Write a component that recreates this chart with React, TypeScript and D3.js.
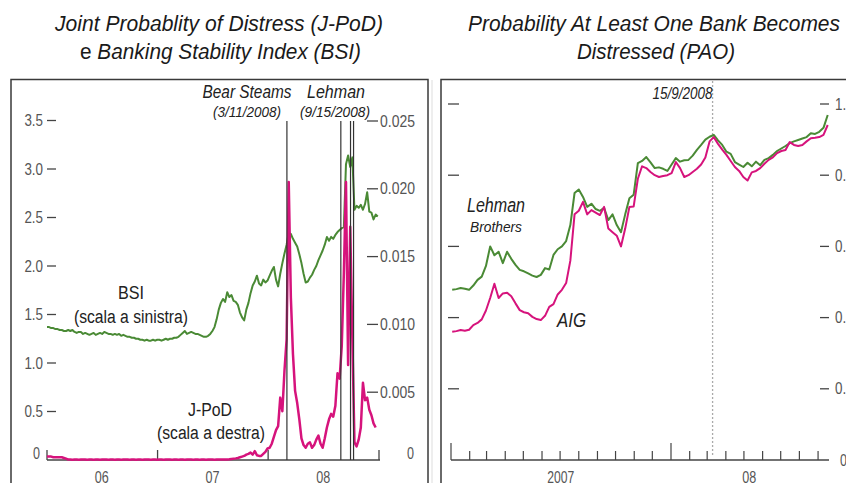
import React from "react";
import * as d3 from "d3";

// BSI, weekly from 1 Jan 2006 (left scale)
const bsiWeekly = [
  1.37, 1.37, 1.36, 1.36, 1.35, 1.35, 1.34, 1.34, 1.33, 1.33,
  1.34, 1.33, 1.34, 1.32, 1.31, 1.32, 1.32, 1.30, 1.31, 1.30,
  1.29, 1.30, 1.31, 1.29, 1.30, 1.31, 1.30, 1.32, 1.31, 1.30,
  1.30, 1.29, 1.30, 1.29, 1.30, 1.28, 1.29, 1.28, 1.27, 1.27,
  1.26, 1.26, 1.25, 1.25, 1.24, 1.24, 1.23, 1.24, 1.23, 1.23,
  1.24, 1.23, 1.24, 1.24, 1.23, 1.24, 1.25, 1.24, 1.25, 1.25,
  1.26, 1.26, 1.27, 1.29, 1.31, 1.33, 1.30, 1.31, 1.32, 1.31,
  1.30, 1.30, 1.29, 1.28, 1.27, 1.27, 1.28, 1.30, 1.33, 1.37,
  1.45, 1.55, 1.62, 1.66, 1.63, 1.73, 1.68, 1.70, 1.64, 1.63,
  1.60, 1.52, 1.47, 1.44, 1.55, 1.62, 1.72, 1.80, 1.84, 1.90,
  1.82, 1.80, 1.86, 1.83, 1.85, 1.90, 1.95, 1.99, 1.86, 1.79,
  1.92, 2.03, 2.13, 2.22, 2.34, 2.33, 2.28, 2.24, 2.20, 2.12,
  2.03, 1.92, 1.83, 1.84, 1.88, 1.91, 1.96, 2.00, 2.06, 2.11,
  2.16, 2.22, 2.30, 2.26, 2.30, 2.28, 2.32, 2.35, 2.37, 2.39,
  2.40, 3.05, 3.14, 3.02, 3.12, 2.58, 2.62, 2.60, 2.63, 2.58,
  2.64, 2.76, 2.56, 2.55, 2.48, 2.53, 2.51,
];

// J-PoD in thousandths, weekly from 1 Jan 2006 (right scale)
const jpodPerMille = [
  0.25, 0.25, 0.25, 0.2, 0.2, 0.2, 0.2, 0.2, 0.15, 0.1,
  0.03, 0.03, 0.02, 0.03, 0.03, 0.02, 0.03, 0.03, 0.03, 0.02,
  0.03, 0.03, 0.02, 0.03, 0.03, 0.02, 0.03, 0.03, 0.03, 0.02,
  0.03, 0.03, 0.02, 0.03, 0.03, 0.02, 0.03, 0.03, 0.03, 0.02,
  0.03, 0.03, 0.02, 0.03, 0.03, 0.02, 0.03, 0.03, 0.03, 0.02,
  0.03, 0.03, 0.02, 0.03, 0.03, 0.02, 0.03, 0.03, 0.03, 0.02,
  0.03, 0.03, 0.02, 0.03, 0.03, 0.02, 0.03, 0.03, 0.03, 0.02,
  0.03, 0.03, 0.02, 0.03, 0.03, 0.02, 0.03, 0.03, 0.03, 0.02,
  0.03, 0.03, 0.03, 0.04, 0.04, 0.04,
  0.05, 0.08, 0.1, 0.12, 0.15, 0.2, 0.25, 0.3, 0.4, 0.45,
  0.55, 0.4, 0.65, 0.35, 0.3, 0.3, 0.45, 0.6, 0.85, 0.9,
  1.2, 1.7, 2.2, 2.5, 4.6, 3.6, 6.6, 8.9, 20.5, 12.0,
  7.8, 5.1, 4.2, 3.0, 1.6, 1.1, 0.9, 1.2, 1.3, 0.9,
  1.1, 1.5, 1.8, 1.2, 0.9, 1.6, 2.4, 3.0, 3.4, 3.2,
  4.0, 6.4, 6.0, 8.4, 13.8, 20.5, 7.0, 17.2, 9.0, 1.3,
  1.0, 1.5, 2.4, 5.7, 4.4, 4.6, 3.7, 3.3, 2.7, 2.4,
];

// PAO, weekly from 3 Jan 2007
const lehmanPao = [
  0.478, 0.480, 0.483, 0.481, 0.478, 0.490, 0.506, 0.515, 0.545, 0.600,
  0.575, 0.585, 0.553, 0.585, 0.565, 0.548, 0.534, 0.530, 0.524, 0.518,
  0.514, 0.520, 0.539, 0.535, 0.576, 0.592, 0.600, 0.615, 0.660, 0.750,
  0.760, 0.739, 0.711, 0.720, 0.705, 0.700, 0.708, 0.674, 0.690, 0.660,
  0.640, 0.690, 0.735, 0.745, 0.834, 0.840, 0.851, 0.836, 0.820, 0.822,
  0.818, 0.812, 0.830, 0.848, 0.838, 0.842, 0.843, 0.855, 0.871, 0.885,
  0.900, 0.908, 0.913, 0.898, 0.885, 0.866, 0.860, 0.837, 0.830, 0.823,
  0.835, 0.825, 0.838, 0.828, 0.843, 0.848, 0.857, 0.868, 0.875, 0.882,
  0.890, 0.895, 0.899, 0.903, 0.907, 0.918, 0.916, 0.922, 0.933, 0.969,
];
const aigPao = [
  0.360, 0.362, 0.365, 0.363, 0.366, 0.379, 0.385, 0.395, 0.420, 0.455,
  0.495, 0.455, 0.468, 0.470, 0.460, 0.440, 0.421, 0.415, 0.412, 0.402,
  0.396, 0.393, 0.405, 0.430, 0.438, 0.465, 0.478, 0.497, 0.560, 0.690,
  0.700, 0.725, 0.690, 0.702, 0.695, 0.688, 0.711, 0.650, 0.640, 0.630,
  0.600, 0.650, 0.711, 0.712, 0.790, 0.825, 0.820, 0.809, 0.800, 0.795,
  0.798, 0.800, 0.806, 0.837, 0.820, 0.795, 0.800, 0.809, 0.818, 0.830,
  0.850, 0.895, 0.907, 0.888, 0.872, 0.857, 0.840, 0.823, 0.812, 0.795,
  0.785, 0.808, 0.812, 0.820, 0.832, 0.843, 0.850, 0.862, 0.868, 0.871,
  0.893, 0.885, 0.882, 0.885, 0.895, 0.904, 0.905, 0.907, 0.913, 0.941,
];

const bsiTicks = [0.5, 1.0, 1.5, 2.0, 2.5, 3.0, 3.5];
const jpodTicks = [0.005, 0.01, 0.015, 0.02, 0.025];
const paoTicks = [0.2, 0.4, 0.6, 0.8, 1.0];
const leftYears = ["2006", "2007", "2008", "2009"];
const leftYearLabels = ["06", "07", "08"];
const leftEvents = ["2008-03-03", "2008-08-28", "2008-09-29", "2008-10-09"];
const rightEvent = "2008-03-10";

const SANS = "'Liberation Sans Narrow', 'Liberation Sans', Arial, sans-serif";
const GREEN = "#4a8a35";
const PINK = "#d6137c";

const parse = d3.timeParse("%Y-%m-%d");

// condensed look: squeeze each label to the width it has in the original
const narrow = (s: string, px: number) => s.length * px;

export default function App() {
  // left panel scales
  const xL = d3.scaleTime().domain([new Date(2006, 0, 1), new Date(2009, 0, 1)]).range([47, 379]);
  const yB = d3.scaleLinear().domain([0, 3.5]).range([460, 120.5]);
  const yJ = d3.scaleLinear().domain([0, 0.025]).range([460, 121]);
  const startL = new Date(2006, 0, 1);
  const dL = (i: number) => d3.timeDay.offset(startL, 7 * i);

  const bsiLine = d3.line<number>().x((d, i) => xL(dL(i))).y((d) => yB(d));
  const jpodLine = d3.line<number>().x((d, i) => xL(dL(i))).y((d) => yJ(d / 1000));

  // right panel scales
  const xR = d3.scaleTime().domain([new Date(2007, 0, 1), new Date(2008, 0, 1)]).range([451, 671]);
  const yP = d3.scaleLinear().domain([0, 1]).range([460, 104]);
  const startR = new Date(2007, 0, 3);
  const dR = (i: number) => d3.timeDay.offset(startR, 7 * i);
  const paoLine = d3.line<number>().x((d, i) => xR(dR(i))).y((d) => yP(d));
  const endR = dR(lehmanPao.length - 1);
  const months = d3.timeMonth.range(new Date(2007, 0, 1), new Date(2008, 8, 2));
  const evX = xR(parse(rightEvent) as Date);

  return (
    <svg width={846} height={483} style={{ position: "absolute", left: 0, top: 0, background: "#fff" }}>
      <rect width={846} height={483} fill="#fff" />

      {/* titles */}
      <g fontFamily={SANS} fontSize={22} fill="#1a1a1a">
        <text x={55} y={31} fontStyle="italic" textLength={328} lengthAdjust="spacingAndGlyphs">
          Joint Probablity of Distress (J-PoD)
        </text>
        <text x={80} y={59} textLength={281} lengthAdjust="spacingAndGlyphs">
          <tspan>e </tspan>
          <tspan fontStyle="italic">Banking Stability Index (BSI)</tspan>
        </text>
        <text x={468} y={31} fontStyle="italic" textLength={372} lengthAdjust="spacingAndGlyphs">
          Probability At Least One Bank Becomes
        </text>
        <text x={577} y={59} fontStyle="italic" textLength={158} lengthAdjust="spacingAndGlyphs">
          Distressed (PAO)
        </text>
      </g>

      {/* frames */}
      <rect x={11} y={79.5} width={417} height={420} fill="none" stroke="#3a3a3a" strokeWidth={1.5} />
      <line x1={432} x2={432} y1={80} y2={483} stroke="#ddd" />
      <rect x={441} y={79.5} width={420} height={420} fill="none" stroke="#3a3a3a" strokeWidth={1.5} />

      {/* ===== left panel ===== */}
      <g fontFamily={SANS} fontSize={17} fill="#555">
        {bsiTicks.map((v) => (
          <g key={"b" + v}>
            <line x1={47} x2={56} y1={yB(v)} y2={yB(v)} stroke="#444" strokeWidth={1.3} />
            <text x={43} y={yB(v)} textAnchor="end" dominantBaseline="central"
              textLength={narrow(v.toFixed(1), 6.2)} lengthAdjust="spacingAndGlyphs">{v.toFixed(1)}</text>
          </g>
        ))}
        <text x={40} y={453} textAnchor="end" dominantBaseline="central" textLength={7} lengthAdjust="spacingAndGlyphs">0</text>
        {jpodTicks.map((v) => (
          <g key={"j" + v}>
            <line x1={367} x2={378} y1={yJ(v)} y2={yJ(v)} stroke="#444" strokeWidth={1.3} />
            <text x={380} y={yJ(v)} dominantBaseline="central"
              textLength={narrow(v.toFixed(3), 7)} lengthAdjust="spacingAndGlyphs">{v.toFixed(3)}</text>
          </g>
        ))}
        <text x={407} y={453} dominantBaseline="central" textLength={7} lengthAdjust="spacingAndGlyphs">0</text>
        <line x1={47} x2={380} y1={460} y2={460} stroke="#444" strokeWidth={1.3} />
        {leftYears.map((yr) => {
          const x = xL(new Date(+yr, 0, 1));
          return <line key={yr} x1={x} x2={x} y1={450} y2={460} stroke="#444" strokeWidth={1.3} />;
        })}
        {leftYearLabels.map((lb, i) => (
          <text key={lb} x={xL(new Date(2006 + i, 6, 1))} y={483} textAnchor="middle"
            textLength={14} lengthAdjust="spacingAndGlyphs">{lb}</text>
        ))}
      </g>

      <path d={bsiLine(bsiWeekly) || ""} fill="none" stroke={GREEN} strokeWidth={2} strokeLinejoin="round" />
      <path d={jpodLine(jpodPerMille) || ""} fill="none" stroke={PINK} strokeWidth={2.5} strokeLinejoin="round" />

      {leftEvents.map((d) => {
        const x = xL(parse(d) as Date);
        return <line key={d} x1={x} x2={x} y1={121} y2={460} stroke="#333" strokeWidth={1.2} />;
      })}

      <g fontFamily={SANS} fontSize={18} fill="#222" fontStyle="italic" textAnchor="middle">
        <text x={247} y={98} textLength={89} lengthAdjust="spacingAndGlyphs">Bear Steams</text>
        <text x={247} y={117} fontSize={15} textLength={68} lengthAdjust="spacingAndGlyphs">(3/11/2008)</text>
        <text x={336} y={98} textLength={58} lengthAdjust="spacingAndGlyphs">Lehman</text>
        <text x={335} y={117} fontSize={15} textLength={70} lengthAdjust="spacingAndGlyphs">(9/15/2008)</text>
      </g>
      <g fontFamily={SANS} fontSize={18} fill="#222" textAnchor="middle">
        <text x={131} y={299} textLength={26} lengthAdjust="spacingAndGlyphs">BSI</text>
        <text x={131} y={323} textLength={114} lengthAdjust="spacingAndGlyphs">(scala a sinistra)</text>
        <text x={210} y={416} textLength={44} lengthAdjust="spacingAndGlyphs">J-PoD</text>
        <text x={211} y={439} textLength={108} lengthAdjust="spacingAndGlyphs">(scala a destra)</text>
      </g>

      {/* ===== right panel ===== */}
      <g fontFamily={SANS} fontSize={17} fill="#555">
        {paoTicks.map((v) => (
          <g key={"p" + v}>
            <line x1={448} x2={459} y1={yP(v)} y2={yP(v)} stroke="#444" strokeWidth={1.3} />
            <line x1={820} x2={829} y1={yP(v)} y2={yP(v)} stroke="#444" strokeWidth={1.3} />
            <text x={835} y={yP(v)} dominantBaseline="central"
              textLength={narrow(v.toFixed(1), 6.2)} lengthAdjust="spacingAndGlyphs">{v.toFixed(1)}</text>
          </g>
        ))}
        <text x={840} y={460} dominantBaseline="central" textLength={7} lengthAdjust="spacingAndGlyphs">0</text>
        <line x1={451} x2={829} y1={460} y2={460} stroke="#444" strokeWidth={1.3} />
        {months.map((m) => {
          const x = xR(m);
          const big = m.getMonth() === 0;
          return <line key={+m} x1={x} x2={x} y1={big ? 443 : 451} y2={460} stroke="#444" strokeWidth={1.2} />;
        })}
        <text x={xR(new Date(2007, 6, 2))} y={483} textAnchor="middle" textLength={27} lengthAdjust="spacingAndGlyphs">2007</text>
        <text x={(xR(new Date(2008, 0, 1)) + xR(endR)) / 2} y={483} textAnchor="middle"
          textLength={14} lengthAdjust="spacingAndGlyphs">08</text>
      </g>

      <line x1={evX} x2={evX} y1={81} y2={456} stroke="#aaa" strokeWidth={1.3} strokeDasharray="2,2" />

      <path d={paoLine(lehmanPao) || ""} fill="none" stroke={GREEN} strokeWidth={2} strokeLinejoin="round" />
      <path d={paoLine(aigPao) || ""} fill="none" stroke={PINK} strokeWidth={2} strokeLinejoin="round" />

      <g fontFamily={SANS} fill="#222" fontStyle="italic">
        <text x={evX} y={99} fontSize={16} textAnchor="end" textLength={60} lengthAdjust="spacingAndGlyphs">15/9/2008</text>
        <text x={467} y={212} fontSize={20} textLength={58} lengthAdjust="spacingAndGlyphs">Lehman</text>
        <text x={470} y={232} fontSize={15} textLength={52} lengthAdjust="spacingAndGlyphs">Brothers</text>
        <text x={557} y={327} fontSize={20} textLength={29} lengthAdjust="spacingAndGlyphs">AIG</text>
      </g>
    </svg>
  );
}
